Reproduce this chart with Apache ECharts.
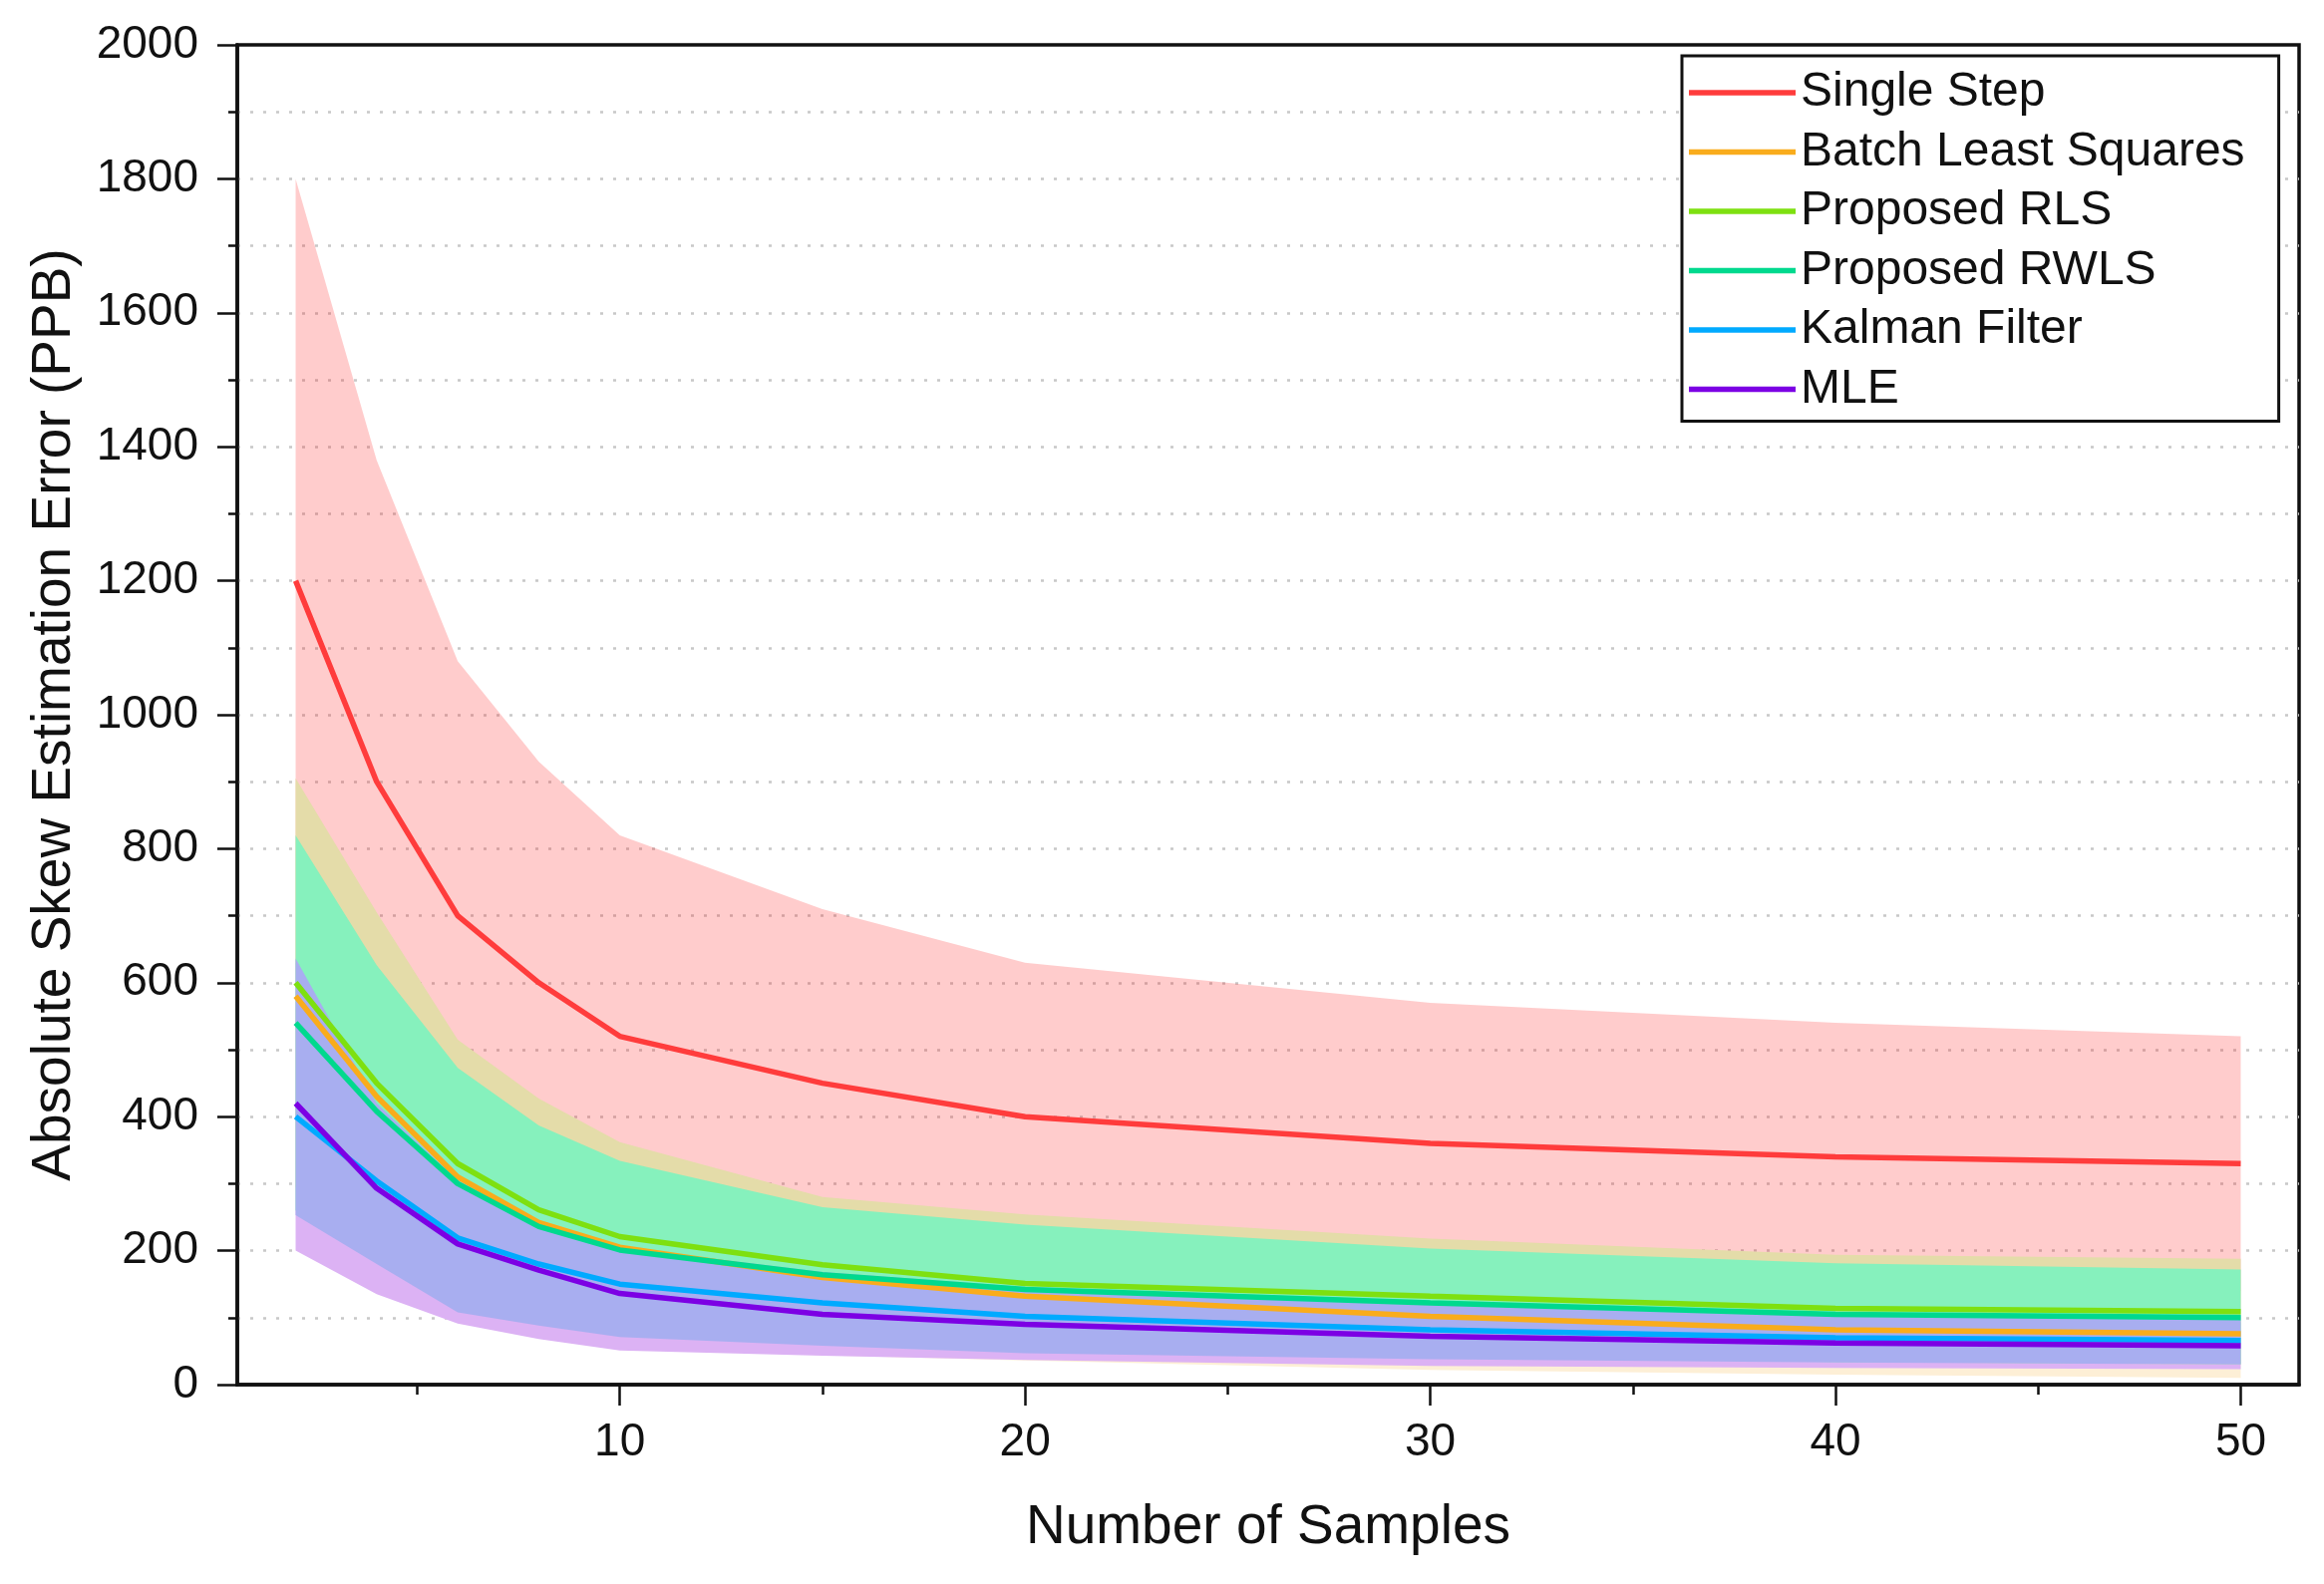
<!DOCTYPE html>
<html><head><meta charset="utf-8">
<script src="https://cdn.jsdelivr.net/npm/echarts@6/dist/echarts.min.js"></script>
<style>html,body{margin:0;padding:0;background:#fff}#c{width:2331px;height:1589px}</style>
</head><body><div id="c"></div>
<script>
// ---------- data ----------
const samples = [2, 4, 6, 8, 10, 15, 20, 30, 40, 50];
const xTickLabels = [10, 20, 30, 40, 50];
const xMinorTicks = [5, 15, 25, 35, 45];

const ssMean  = [1200, 900, 700, 600, 520, 450, 400, 360, 340, 330];
const ssUpper = [1800, 1380, 1080, 930, 820, 710, 630, 570, 540, 520];
const ssLower = [600, 420, 320, 270, 220, 190, 170, 150, 140, 140];

const blsMean  = [580, 430, 310, 242, 205, 160, 132, 102, 82, 76];
const blsUpper = [900, 690, 510, 409, 355, 276, 228, 182, 149, 142];
const blsLower = [260, 170, 110, 75, 55, 44, 36, 22, 15, 10];

const rlsMean  = [600, 450, 330, 261, 221, 179, 151, 132, 114, 109];
const rlsUpper = [905, 705, 515, 427, 362, 280, 254, 218, 194, 188];
const rlsLower = [295, 195, 145, 95, 80, 78, 48, 46, 34, 30];

const rwlsMean  = [540, 408, 300, 236, 201, 164, 142, 122, 105, 100];
const rwlsUpper = [820, 626, 473, 387, 334, 265, 239, 203, 181, 172];
const rwlsLower = [260, 190, 127, 90, 72, 63, 48, 41, 34, 31];

const kfMean  = [400, 304, 219, 180, 150, 122, 102, 82, 70, 66];
const kfUpper = [636, 420, 305, 240, 205, 168, 146, 125, 108, 103];
const kfLower = [253, 180, 108, 88, 71, 58, 47, 38, 33, 30];

const mleMean  = [420, 293, 210, 171, 136, 105, 90, 72, 62, 58];
const mleUpper = [630, 415, 300, 235, 200, 160, 140, 116, 99, 93];
const mleLower = [200, 135, 91, 68, 51, 43, 37, 28, 25, 23];

const names = ['Single Step', 'Batch Least Squares', 'Proposed RLS', 'Proposed RWLS', 'Kalman Filter', 'MLE'];
const lineColors = ['#ff3c3c', '#f9ac1c', '#7ee010', '#00d98e', '#00aaff', '#7c00e4'];

// ---------- build ----------
const FONT = "Arial, 'Liberation Sans', sans-serif";
function pts(arr) { return samples.map((x, i) => [x, arr[i]]); }
function band(key, lower, upper, color, z) {
  return {
    type: 'custom', name: key + '_band', coordinateSystem: 'cartesian2d', silent: true, z: z, clip: true,
    data: pts(lower),
    renderItem: function (params, api) {
      if (params.dataIndex !== 0) return null;
      const top = samples.map((x, i) => api.coord([x, upper[i]]));
      const bot = samples.map((x, i) => api.coord([x, lower[i]])).reverse();
      return { type: 'polygon', shape: { points: top.concat(bot) }, style: { fill: color } };
    }
  };
}
function line(idx, arr) {
  return { type: 'line', name: names[idx], data: pts(arr), symbol: 'none', z: 20 + idx,
    color: lineColors[idx], lineStyle: { color: lineColors[idx], width: 5.5 } };
}

const series = [
  band('ss', ssLower, ssUpper, 'rgba(255,0,0,0.2)', 2),
  band('bls', blsLower, blsUpper, '#fdefd6', 3),
  band('mle', mleLower, mleUpper, '#dcb2f4', 4),
  band('rls', rlsLower, rlsUpper, '#e4dca9', 5),
  band('rwls', rwlsLower, rwlsUpper, '#86f1bd', 6),
  band('kf', kfLower, kfUpper, '#a8aef0', 7),
  line(0, ssMean), line(1, blsMean), line(2, rlsMean), line(3, rwlsMean), line(4, kfMean), line(5, mleMean)
];

const chart = echarts.init(document.getElementById('c'), null, { renderer: 'canvas' });
chart.setOption({
  backgroundColor: '#fff',
  animation: false,
  grid: { left: 238, right: 25, top: 45, bottom: 200, show: true, borderColor: '#111', borderWidth: 3.5,
    backgroundColor: 'transparent' },
  legend: {
    data: names, orient: 'vertical', left: 1687, top: 56, icon: 'rect',
    itemWidth: 107, itemHeight: 5.5, itemGap: 11.5,
    padding: [13, 34, 8, 7], borderColor: '#111', borderWidth: 3, backgroundColor: '#fff',
    textStyle: { fontFamily: FONT, fontSize: 48, color: '#111' }, z: 50
  },
  xAxis: [{
    type: 'value', min: 0.56, max: 51.44,
    name: 'Number of Samples', nameLocation: 'middle', nameGap: 116,
    nameTextStyle: { fontFamily: FONT, fontSize: 55, color: '#111' },
    axisLine: { show: true, lineStyle: { color: '#111', width: 3.5 } },
    axisTick: { show: true, customValues: xTickLabels, length: 21, lineStyle: { color: '#111', width: 2.5 } },
    axisLabel: { show: true, customValues: xTickLabels, margin: 35, fontFamily: FONT, fontSize: 46, color: '#111' },
    splitLine: { show: false }
  }, {
    type: 'value', min: 0.56, max: 51.44, position: 'bottom', offset: 0,
    axisLine: { show: false },
    axisTick: { show: true, customValues: xMinorTicks, length: 10, lineStyle: { color: '#111', width: 2.5 } },
    axisLabel: { show: false }, splitLine: { show: false }
  }],
  yAxis: {
    type: 'value', min: 0, max: 2000, interval: 200,
    name: 'Absolute Skew Estimation Error (PPB)', nameLocation: 'middle', nameGap: 156,
    nameTextStyle: { fontFamily: FONT, fontSize: 55, color: '#111' },
    axisLine: { show: true, lineStyle: { color: '#111', width: 3.5 } },
    axisTick: { show: true, length: 20, lineStyle: { color: '#111', width: 2.5 } },
    minorTick: { show: true, splitNumber: 2, length: 9, lineStyle: { color: '#111', width: 2.5 } },
    axisLabel: { margin: 39, fontFamily: FONT, fontSize: 46, color: '#111', formatter: v => String(v) },
    splitLine: { show: true, showMinLine: false, showMaxLine: false,
      lineStyle: { color: '#c8c8c8', width: 2.5, type: [3, 10] } },
    minorSplitLine: { show: true, lineStyle: { color: '#c8c8c8', width: 2.5, type: [3, 10] } }
  },
  series: series
});
</script>
</body></html>
